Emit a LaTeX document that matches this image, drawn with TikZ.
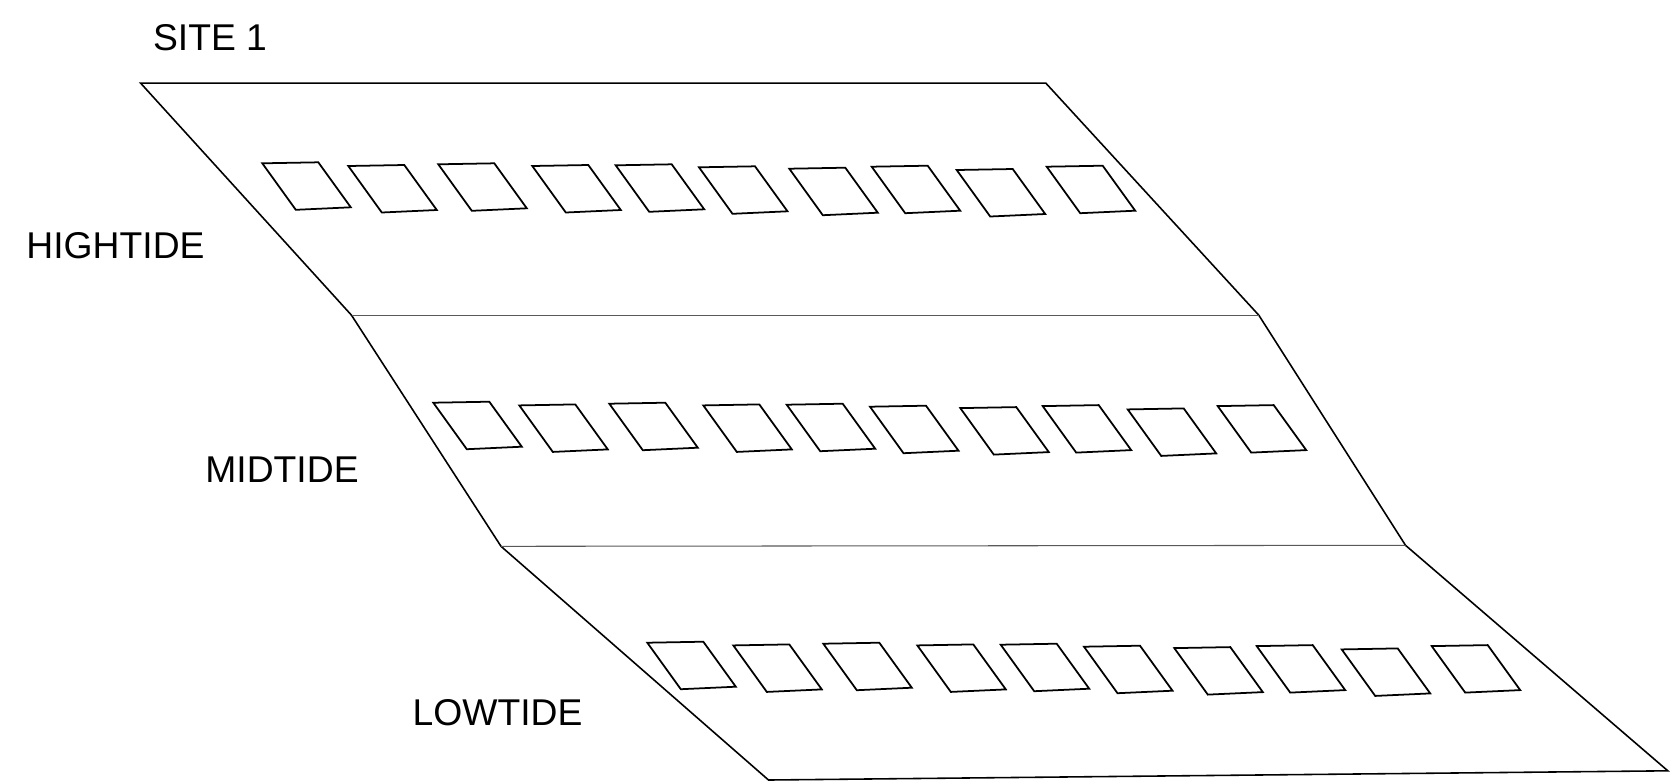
\documentclass[tikz,border=0pt]{standalone}
\usepackage{fontspec}
\setmainfont{Liberation Sans}
\usepackage{tikz}

\begin{document}
\begin{tikzpicture}[x=0.01cm, y=-0.01cm,
    shore_edge/.style={draw=black, line width=0.45pt, line join=miter},
    zone_line/.style={draw=black!65, line width=0.3pt},
    quadrat/.style={draw=black, line width=0.5pt},
    zone_label/.style={inner sep=0pt, font=\fontsize{10.6}{12}\selectfont}]
      \useasboundingbox (0,0) rectangle (1670,781);

      % Define coordinates
      \coordinate (top_left) at (140.6, 83.1);
      \coordinate (top_right) at (1045.8, 83.1);
      \coordinate (high_left) at (351.5, 315.2);
      \coordinate (high_right) at (1258.8, 315.2);
      \coordinate (mid_left) at (501, 546.3);
      \coordinate (mid_right) at (1405.5, 545.3);
      \coordinate (low_left) at (768.5, 780);
      \coordinate (low_right) at (1667.8, 770.8);

      % Draw the outline of the shore
      \draw[shore_edge] (top_left) -- (top_right) -- (high_right) -- (mid_right)
        -- (low_right) -- (low_left) -- (mid_left) -- (high_left) -- cycle;

      % Draw the borders between tide zones
      \draw[zone_line] (high_left) -- (high_right);
      \draw[zone_line] (mid_left) -- (mid_right);

      % Draw the quadrats (one row per zone)
      \foreach \dx/\dy in {0/0, 171/239.4, 385/479.4}
        \foreach \qx/\qy in {262.3/163.3, 348.3/166, 438.3/164.3, 532.3/166,
            615.7/165.3, 699/167.3, 789.3/168.7, 871.7/166.7, 956.7/170, 1046.7/166.7}
          \draw[quadrat] (\qx+\dx, \qy+\dy) -- ++(56,-1) -- ++(32.5,45)
            -- ++(-55,2.5) -- cycle;

      % Labels
      \node[zone_label] (site) at (210, 37.3) {SITE 1};
      \node[zone_label] (high_tide) at (115.5, 245.8) {HIGHTIDE};
      \node[zone_label] (mid_tide) at (282, 470) {MIDTIDE};
      \node[zone_label] (low_tide) at (497.5, 712.5) {LOWTIDE};
    \end{tikzpicture}
\end{document}
